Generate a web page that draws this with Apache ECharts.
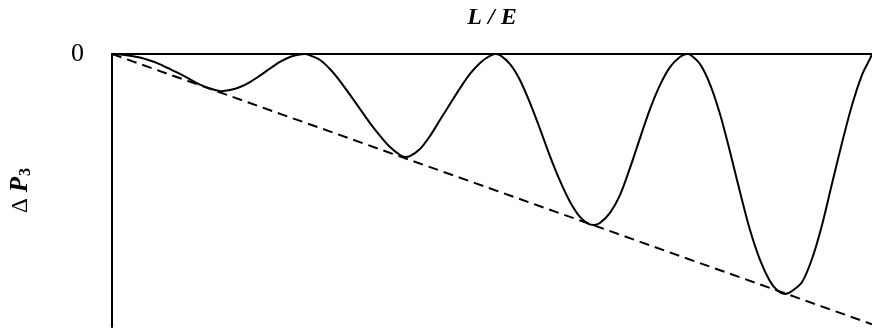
<!DOCTYPE html>
<html>
<head>
<meta charset="utf-8">
<script src="https://cdn.jsdelivr.net/npm/echarts@6/dist/echarts.min.js"></script>
<style>
	html, body { margin: 0; padding: 0; background: #fff; }
</style>
</head>
<body>
<div id="chart" style="width:872px; height:331px;"></div>
<script>
	// L/E 取值 (横轴) 与振荡曲线 ΔP3 (纵轴)
	var lOverE = [
		0, 0.068, 0.147, 0.200, 0.253, 0.305, 0.358, 0.411, 0.463, 0.516, 0.574, 0.621, 0.674, 0.726, 0.779, 0.832, 0.884, 0.937, 0.979, 1.016,
		1.042, 1.095, 1.147, 1.200, 1.253, 1.305, 1.358, 1.411, 1.463, 1.516, 1.542, 1.568, 1.621, 1.674, 1.726, 1.779, 1.832, 1.884, 1.937, 1.979, 2.016,
		2.042, 2.095, 2.147, 2.200, 2.253, 2.305, 2.358, 2.411, 2.463, 2.505, 2.537, 2.568, 2.621, 2.674, 2.726, 2.779, 2.832, 2.884, 2.937, 2.989, 3.026,
		3.042, 3.095, 3.147, 3.200, 3.253, 3.305, 3.358, 3.411, 3.463, 3.505, 3.542, 3.579, 3.632, 3.684, 3.737, 3.789, 3.842, 3.895, 3.947, 3.989, 4.000
	];
	var deltaP3 = [
		0, -0.004, -0.013, -0.024, -0.038, -0.055, -0.073, -0.093, -0.112, -0.126, -0.136, -0.132, -0.121, -0.103, -0.079, -0.053, -0.029, -0.011, -0.003, 0,
		-0.005, -0.022, -0.055, -0.099, -0.150, -0.201, -0.253, -0.300, -0.341, -0.370, -0.377, -0.374, -0.348, -0.300, -0.242, -0.183, -0.125, -0.073, -0.033, -0.011, 0,
		-0.004, -0.037, -0.095, -0.179, -0.275, -0.374, -0.465, -0.542, -0.597, -0.621, -0.626, -0.619, -0.582, -0.516, -0.418, -0.308, -0.201, -0.114, -0.048, -0.011, 0,
		-0.002, -0.037, -0.110, -0.220, -0.359, -0.505, -0.645, -0.755, -0.832, -0.868, -0.879, -0.868, -0.835, -0.751, -0.626, -0.476, -0.326, -0.187, -0.077, -0.018, 0
	];
	// 包络线 (虚线)
	var envelopeX = [0, 4];
	var envelopeY = [0, -0.99];

	function toPairs(xs, ys) {
		var out = [];
		for (var i = 0; i < xs.length; i++) {
			out.push([xs[i], ys[i]]);
		}
		return out;
	}

	var serif = '"Liberation Serif", "DejaVu Serif", serif';
	var chart = echarts.init(document.getElementById('chart'), null, { renderer: 'canvas' });
	chart.setOption({
		animation: false,
		grid: { left: 112, right: 0, top: 54, bottom: 4, containLabel: false, outerBoundsMode: 'none' },
		xAxis: {
			type: 'value',
			position: 'top',
			min: 0,
			max: 4,
			name: 'L / E',
			nameLocation: 'middle',
			nameGap: 24,
			nameTextStyle: { fontFamily: serif, fontSize: 24, fontWeight: 'bold', fontStyle: 'italic', color: '#000' },
			axisLine: { show: true, lineStyle: { color: '#000', width: 2 } },
			axisTick: { show: false },
			axisLabel: { show: false },
			splitLine: { show: false }
		},
		yAxis: {
			type: 'value',
			min: -1,
			max: 0,
			interval: 1,
			name: '{d|Δ }{p|P}{s|3}',
			nameLocation: 'middle',
			nameGap: 78,
			nameRotate: 90,
			nameTextStyle: {
				color: '#000',
				rich: {
					d: { fontFamily: serif, fontSize: 23, color: '#000' },
					p: { fontFamily: serif, fontSize: 25, fontWeight: 'bold', fontStyle: 'italic', color: '#000' },
					s: { fontFamily: serif, fontSize: 16, fontWeight: 'bold', color: '#000', padding: [11, 0, 0, 1] }
				}
			},
			axisLine: { show: true, lineStyle: { color: '#000', width: 2 } },
			axisTick: { show: false },
			axisLabel: {
				margin: 28,
				fontFamily: serif,
				fontSize: 26,
				color: '#000',
				formatter: function (v) { return v === 0 ? '0' : ''; }
			},
			splitLine: { show: false }
		},
		series: [
			{
				name: 'ΔP3',
				type: 'line',
				data: toPairs(lOverE, deltaP3),
				smooth: 0.3,
				showSymbol: false,
				clip: false,
				lineStyle: { color: '#000', width: 2 }
			},
			{
				name: 'envelope',
				type: 'line',
				data: toPairs(envelopeX, envelopeY),
				showSymbol: false,
				clip: false,
				lineStyle: { color: '#000', width: 2, type: [10, 6] }
			}
		]
	});
</script>
</body>
</html>
